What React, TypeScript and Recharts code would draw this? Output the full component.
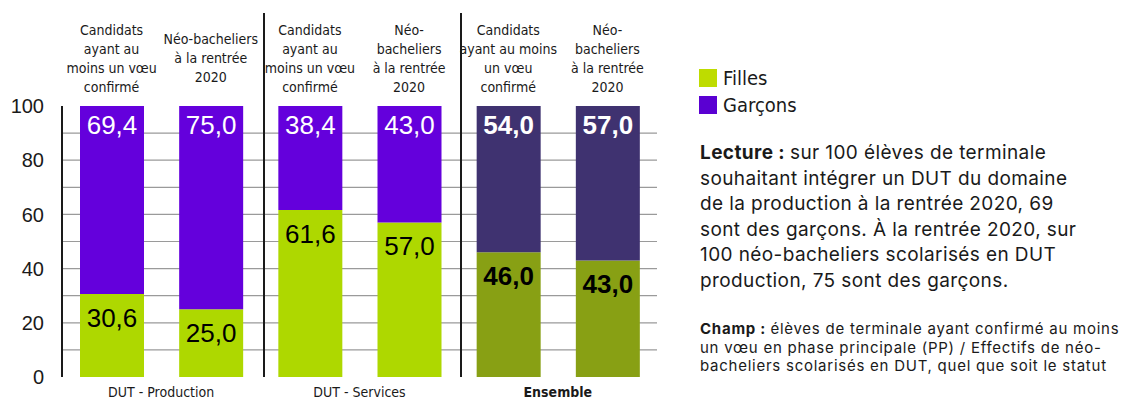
import React from 'react';
import { BarChart, Bar, XAxis, YAxis, CartesianGrid, LabelList, Cell } from 'recharts';

// Categories (one per bar), header text split as in the source
const categories = ['cand-prod', 'neo-prod', 'cand-serv', 'neo-serv', 'cand-all', 'neo-all'];
const headerLines = [
  ['Candidats', 'ayant au', 'moins un vœu', 'confirmé'],
  ['Néo-bacheliers', 'à la rentrée', '2020'],
  ['Candidats', 'ayant au', 'moins un vœu', 'confirmé'],
  ['Néo-', 'bacheliers', 'à la rentrée', '2020'],
  ['Candidats', 'ayant au moins', 'un vœu', 'confirmé'],
  ['Néo-', 'bacheliers', 'à la rentrée', '2020'],
];
const groups = ['DUT - Production', 'DUT - Production', 'DUT - Services', 'DUT - Services', 'Ensemble', 'Ensemble'];

// Series values (%)
const filles = [30.6, 25.0, 61.6, 57.0, 46.0, 43.0];
const garcons = [69.4, 75.0, 38.4, 43.0, 54.0, 57.0];

const yTicks = [0, 10, 20, 30, 40, 50, 60, 70, 80, 90, 100];
const gridValues = [10, 20, 30, 40, 50, 60, 70, 80, 90];

const legendItems = ['Filles', 'Garçons'];

const COLORS = {
  filles: '#AED800',
  garcons: '#6400DC',
  fillesAll: '#88A014',
  garconsAll: '#3F3270',
  legendFilles: '#BEDC00',
  legendGarcons: '#5A00D2',
  text: '#1a1a1a',
};

const SANS = '"Liberation Sans", Arial, sans-serif';
const NARROW = '"Liberation Sans Narrow", "Arial Narrow", "DejaVu Sans Condensed", sans-serif';
const BODY = 'Inter, "Open Sans", sans-serif';

const CHART_W = 1124;
const CHART_H = 401;
const Y_AXIS_W = 62;
const RIGHT_MARGIN = 467;
const HALF_BAND = (CHART_W - Y_AXIS_W - RIGHT_MARGIN) / categories.length / 2;

const data = categories.map((cat, i) => ({
  cat,
  group: groups[i],
  filles: filles[i],
  garcons: garcons[i],
}));

const fmt = (v: number) => v.toFixed(1).replace('.', ',');
const isAll = (i: number) => groups[i] === 'Ensemble';

const HeaderTick = (props: any) => {
  const { x, y, index } = props;
  const lines = headerLines[index] || [];
  const lh = 19;
  const cy = y - 48;
  const start = cy - ((lines.length - 1) * lh) / 2;
  return (
    <g>
      {lines.map((l, i) => (
        <text key={i} x={x} y={start + i * lh + 5} textAnchor="middle" fontFamily={NARROW} fontSize={14} fill={COLORS.text}>
          {l}
        </text>
      ))}
    </g>
  );
};

const GroupTick = (props: any) => {
  const { x, y, index } = props;
  if (index % 2 !== 0) return null;
  return (
    <text
      x={x + HALF_BAND}
      y={y + 20}
      textAnchor="middle"
      fontFamily={NARROW}
      fontSize={14}
      fontWeight={isAll(index) ? 700 : 400}
      fill={COLORS.text}
    >
      {groups[index]}
    </text>
  );
};

const makeLabel = (offset: number, color: string) => (props: any) => {
  const { x, y, width, value, index } = props;
  const bold = isAll(index);
  return (
    <text
      x={x + width / 2}
      y={y + offset + 26 * 0.716}
      textAnchor="middle"
      fontFamily={SANS}
      fontSize={26}
      fontWeight={bold ? 700 : 400}
      fill={color}
    >
      {fmt(Number(value))}
    </text>
  );
};

const Separator = ({ left }: { left: number }) => (
  <div style={{ position: 'absolute', left, top: 13, width: 2, height: 364, background: '#1a1a1a' }} />
);

const lectureLines = [
  'sur 100 élèves de terminale',
  'souhaitant intégrer un DUT du domaine',
  'de la production à la rentrée 2020, 69',
  'sont des garçons. À la rentrée 2020, sur',
  '100 néo-bacheliers scolarisés en DUT',
  'production, 75 sont des garçons.',
];
const champLines = [
  'élèves de terminale ayant confirmé au moins',
  'un vœu en phase principale (PP) / Effectifs de néo-',
  'bacheliers scolarisés en DUT, quel que soit le statut',
];

export default function App() {
  const legendColors = [COLORS.legendFilles, COLORS.legendGarcons];
  return (
    <div style={{ position: 'absolute', left: 0, top: 0, width: CHART_W, height: CHART_H, background: '#fff' }}>
      <BarChart
        width={CHART_W}
        height={CHART_H}
        data={data}
        margin={{ top: 0, right: RIGHT_MARGIN, bottom: 0, left: 0 }}
        barSize={64}
      >
        <CartesianGrid
          vertical={false}
          stroke="#9a9a9a"
          strokeWidth={1.2}
          horizontalCoordinatesGenerator={({ offset }: any) =>
            gridValues.map((v) => offset.top + offset.height * (1 - v / 100))
          }
        />
        <XAxis
          dataKey="cat"
          orientation="top"
          height={106}
          axisLine={false}
          tickLine={false}
          tickSize={0}
          tickMargin={0}
          interval={0}
          tick={<HeaderTick />}
        />
        <XAxis
          xAxisId="grp"
          dataKey="cat"
          orientation="bottom"
          height={24}
          axisLine={false}
          tickLine={false}
          tickSize={0}
          tickMargin={0}
          interval={0}
          tick={<GroupTick />}
        />
        <YAxis
          width={Y_AXIS_W}
          domain={[0, 100]}
          ticks={yTicks}
          interval={0}
          tickFormatter={(v: number) => (v % 20 === 0 ? String(v) : '')}
          axisLine={{ stroke: '#1a1a1a', strokeWidth: 2 }}
          tickLine={false}
          tickSize={0}
          tickMargin={18}
          tick={{ fontFamily: SANS, fontSize: 20, fill: COLORS.text }}
        />
        <Bar dataKey="filles" name="Filles" stackId="a" isAnimationActive={false}>
          {data.map((d, i) => (
            <Cell key={i} fill={isAll(i) ? COLORS.fillesAll : COLORS.filles} />
          ))}
          <LabelList dataKey="filles" content={makeLabel(14, '#000')} />
        </Bar>
        <Bar dataKey="garcons" name="Garçons" stackId="a" isAnimationActive={false}>
          {data.map((d, i) => (
            <Cell key={i} fill={isAll(i) ? COLORS.garconsAll : COLORS.garcons} />
          ))}
          <LabelList dataKey="garcons" content={makeLabel(9, '#fff')} />
        </Bar>
      </BarChart>

      <Separator left={263} />
      <Separator left={460} />

      <div style={{ position: 'absolute', left: 699, top: 64, fontFamily: NARROW, fontSize: 20, color: COLORS.text }}>
        {legendItems.map((name, i) => (
          <div key={name} style={{ display: 'flex', alignItems: 'center', height: 27 }}>
            <span style={{ width: 18, height: 18, background: legendColors[i], display: 'inline-block', marginRight: 6 }} />
            <span>{name}</span>
          </div>
        ))}
      </div>

      <div style={{ position: 'absolute', left: 700, top: 140, fontFamily: BODY, fontSize: 19, letterSpacing: 0.4, lineHeight: '25.5px', color: COLORS.text, whiteSpace: 'nowrap' }}>
        {lectureLines.map((l, i) => (
          <div key={i}>
            {i === 0 && <b>Lecture : </b>}
            {l}
          </div>
        ))}
      </div>

      <div style={{ position: 'absolute', left: 700, top: 320, fontFamily: BODY, fontSize: 15, letterSpacing: 0.75, lineHeight: '18.5px', color: COLORS.text, whiteSpace: 'nowrap' }}>
        {champLines.map((l, i) => (
          <div key={i}>
            {i === 0 && <b>Champ : </b>}
            {l}
          </div>
        ))}
      </div>
    </div>
  );
}
